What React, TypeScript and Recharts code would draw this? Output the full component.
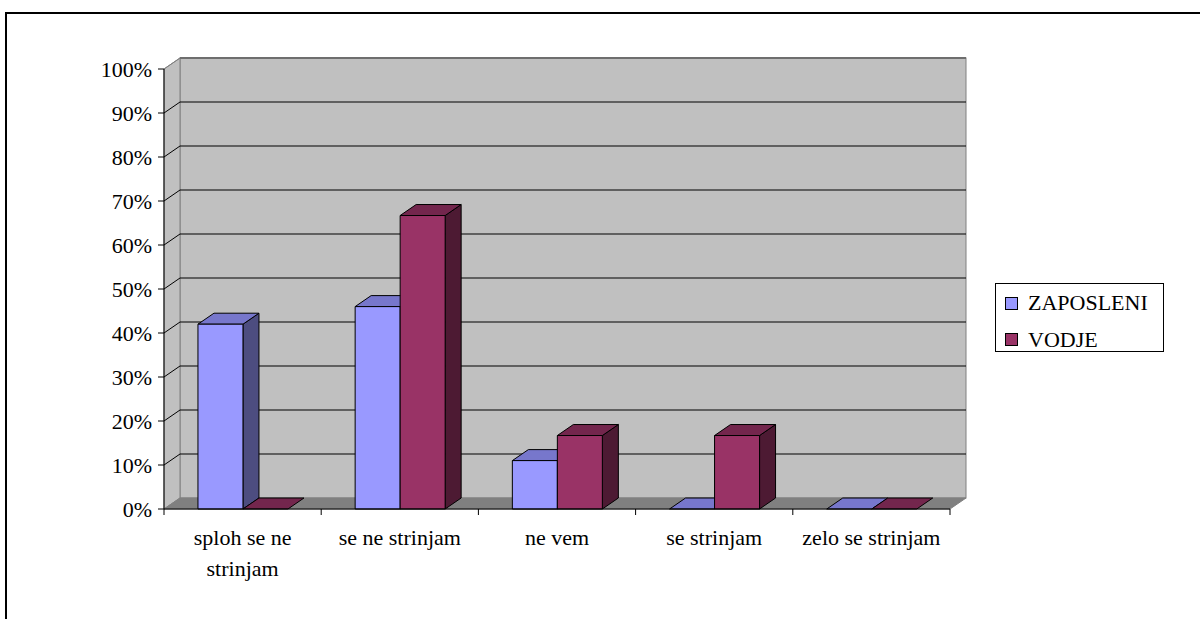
import { BarChart, Bar, XAxis, YAxis, ReferenceArea, Legend } from 'recharts'

const categories = ['sploh se ne strinjam', 'se ne strinjam', 'ne vem', 'se strinjam', 'zelo se strinjam']
const zaposleni = [42, 46, 11, 0, 0]
const vodje = [0, 66.7, 16.7, 16.7, 0]
const yTicks = [0, 10, 20, 30, 40, 50, 60, 70, 80, 90, 100]

const data = categories.map((name, i) => ({ name, ZAPOSLENI: zaposleni[i], VODJE: vodje[i] }))

// depth of the 3D box (back wall offset)
const DX = 16
const DY = 11
const FONT = '"Liberation Serif", "DejaVu Serif", "Times New Roman", Times, serif'
const MAX_CHARS = 16

const series = [
  { key: 'ZAPOSLENI', front: '#9999ff', top: '#7777cc', side: '#4d4d80' },
  { key: 'VODJE', front: '#993366', top: '#73264d', side: '#4d1a33' },
]

// greedy word wrap for category labels
const wrap = (label: string) => {
  const lines: string[] = []
  let cur = ''
  for (const w of label.split(' ')) {
    const next = cur ? `${cur} ${w}` : w
    if (next.length > MAX_CHARS && cur) {
      lines.push(cur)
      cur = w
    } else cur = next
  }
  if (cur) lines.push(cur)
  return lines
}

const boxShape = (front: string, top: string, side: string) => (props: any) => {
  const { x, y, width: w, height: h } = props
  if (x == null || y == null) return <g />
  return (
    <g stroke="#000" strokeWidth={1} strokeLinejoin="round">
      {h > 0 && (
        <polygon
          points={`${x + w},${y} ${x + w + DX},${y - DY} ${x + w + DX},${y + h - DY} ${x + w},${y + h}`}
          fill={side}
        />
      )}
      <polygon points={`${x},${y} ${x + DX},${y - DY} ${x + w + DX},${y - DY} ${x + w},${y}`} fill={top} />
      {h > 0 && <rect x={x} y={y} width={w} height={h} fill={front} />}
    </g>
  )
}

// back wall, side wall, floor and gridlines
const Walls = (props: any) => {
  const { x, y, width: w, height: h } = props
  const b = y + h
  return (
    <g>
      <rect x={x + DX} y={y - DY} width={w} height={h} fill="#c0c0c0" stroke="#808080" />
      <polygon
        points={`${x},${y} ${x + DX},${y - DY} ${x + DX},${b - DY} ${x},${b}`}
        fill="#c0c0c0"
        stroke="#808080"
      />
      <polygon
        points={`${x},${b} ${x + DX},${b - DY} ${x + w + DX},${b - DY} ${x + w},${b}`}
        fill="#808080"
        stroke="#808080"
      />
      {yTicks.slice(1, -1).map((t) => {
        const gy = b - (h * t) / 100
        return (
          <g key={t} stroke="#000" strokeWidth={1}>
            <line x1={x} y1={gy} x2={x + DX} y2={gy - DY} />
            <line x1={x + DX} y1={gy - DY} x2={x + w + DX} y2={gy - DY} />
          </g>
        )
      })}
      <line x1={x} y1={y} x2={x + DX} y2={y - DY} stroke="#808080" />
      <line x1={x + DX} y1={y - DY} x2={x + w + DX} y2={y - DY} stroke="#6e6e6e" strokeWidth={2} />
    </g>
  )
}

const CategoryTick = (props: any) => {
  const { x, y, payload, index } = props
  const half = payload?.offset ?? 786 / categories.length / 2
  const axisY = y - 8
  const lines = wrap(String(payload.value))
  return (
    <g>
      <line x1={x - half} y1={axisY} x2={x - half} y2={axisY + 6} stroke="#000" />
      {index === categories.length - 1 && (
        <line x1={x + half} y1={axisY} x2={x + half} y2={axisY + 6} stroke="#000" />
      )}
      <text x={x} y={y + 28} textAnchor="middle" fill="#000" fontSize={22} fontFamily={FONT}>
        {lines.map((ln, i) => (
          <tspan key={i} x={x} dy={i === 0 ? 0 : 31}>
            {ln}
          </tspan>
        ))}
      </text>
    </g>
  )
}

const LegendBox = () => (
  <div
    style={{
      width: 169,
      height: 69,
      boxSizing: 'border-box',
      border: '1px solid #000',
      background: '#fff',
      paddingTop: 1,
      paddingLeft: 9,
      fontFamily: FONT,
      fontSize: 22,
      color: '#000',
    }}
  >
    {series.map((s) => (
      <div key={s.key} style={{ display: 'flex', alignItems: 'center', height: 36.5 }}>
        <span
          style={{
            display: 'inline-block',
            width: 11,
            height: 11,
            background: s.front,
            border: '1px solid #000',
            marginRight: 10,
          }}
        />
        <span>{s.key}</span>
      </div>
    ))}
  </div>
)

export default function App() {
  return (
    <div style={{ position: 'absolute', left: 0, top: 0, width: 1200, height: 619, overflow: 'hidden', background: '#fff' }}>
      <div
        style={{
          position: 'absolute',
          left: 5,
          top: 12,
          width: 1300,
          height: 700,
          border: '2px solid #000',
        }}
      />
      <div style={{ position: 'absolute', left: 0, top: 0 }}>
        <BarChart
          width={1200}
          height={619}
          data={data}
          margin={{ top: 69, right: 250, bottom: 0, left: 0 }}
          barCategoryGap="21.6%"
          barGap={0}
        >
          <ReferenceArea y1={0} y2={100} shape={<Walls />} fill="none" stroke="none" />
          <XAxis
            dataKey="name"
            height={110}
            interval={0}
            tickLine={false}
            tickSize={6}
            tickMargin={2}
            axisLine={{ stroke: '#000' }}
            tick={<CategoryTick />}
          />
          <YAxis
            width={164}
            domain={[0, 100]}
            ticks={yTicks}
            interval={0}
            tickFormatter={(v) => `${v}%`}
            axisLine={{ stroke: '#000' }}
            tickLine={{ stroke: '#000' }}
            tickSize={6}
            tickMargin={6}
            tick={{ fill: '#000', fontSize: 22, fontFamily: FONT }}
          />
          {series.map((s) => (
            <Bar
              key={s.key}
              dataKey={s.key}
              name={s.key}
              fill={s.front}
              isAnimationActive={false}
              shape={boxShape(s.front, s.top, s.side)}
            />
          ))}
          <Legend
            layout="vertical"
            align="center"
            verticalAlign="middle"
            content={<LegendBox />}
            wrapperStyle={{ left: 995, top: 283, right: 'auto', bottom: 'auto', width: 169 }}
          />
        </BarChart>
      </div>
    </div>
  )
}
